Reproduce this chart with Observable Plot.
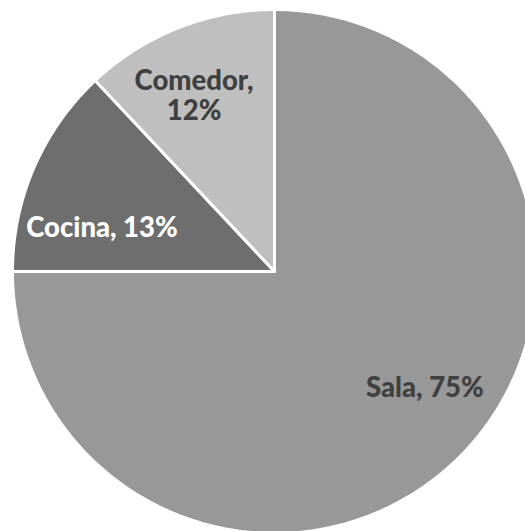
<!DOCTYPE html>
<html>
<head>
<meta charset="utf-8">
<script src="https://cdn.jsdelivr.net/npm/d3@7"></script>
<script src="https://cdn.jsdelivr.net/npm/@observablehq/plot@0.6"></script>
<style>
  html, body { margin: 0; padding: 0; background: #fff; }
  #chart svg { display: block; }
</style>
</head>
<body>
<div id="chart"></div>
<script>
// Data
const categories = ["Sala", "Cocina", "Comedor"];
const values = [75, 13, 12];

// Styles
const sliceColors = ["#989898", "#6e6e6e", "#bfbfbf"];
const labelColors = ["#404040", "#ffffff", "#404040"];
const labelLines = [["Sala, 75%"], ["Cocina, 13%"], ["Comedor,", "12%"]];
const labelRadius = [0.72, 0.68, 0.73];
const labelDx = [17, -9, -10];
const labelDy = [-18, 27, 2];

const W = 525, H = 531;
const cx = 274, cy = 271, R = 262;

const pie = d3.pie().sort(null).value(d => d.value).startAngle(0).endAngle(2 * Math.PI);
const arcs = pie(categories.map((c, i) => ({cat: c, value: values[i], i})));

// Polygon points per slice (data units = pixels relative to centre, y up)
const polys = [];
arcs.forEach(a => {
  const n = Math.max(2, Math.ceil((a.endAngle - a.startAngle) / (Math.PI / 180)));
  polys.push({cat: a.data.cat, x: 0, y: 0});
  for (let k = 0; k <= n; k++) {
    const t = a.startAngle + (a.endAngle - a.startAngle) * k / n;
    polys.push({cat: a.data.cat, x: R * Math.sin(t), y: R * Math.cos(t)});
  }
  polys.push({cat: a.data.cat, x: 0, y: 0});
});

const labels = [];
arcs.forEach(a => {
  const i = a.data.i;
  const mid = (a.startAngle + a.endAngle) / 2;
  const lr = R * labelRadius[i];
  labels.push({
    cat: a.data.cat,
    text: labelLines[i].join("\n"),
    x: lr * Math.sin(mid),
    y: lr * Math.cos(mid),
    fill: labelColors[i],
    dx: labelDx[i],
    dy: labelDy[i]
  });
});

const plot = Plot.plot({
  width: W,
  height: H,
  margin: 0,
  x: {domain: [-cx, W - cx], axis: null},
  y: {domain: [-(H - cy), cy], axis: null},
  color: {domain: categories, range: sliceColors},
  marks: [
    Plot.line(polys, {x: "x", y: "y", z: "cat", fill: "cat", stroke: "white", strokeWidth: 3, strokeLinejoin: "miter", curve: "linear"}),
    ...labels.map(l => Plot.text([l], {
      x: "x", y: "y", text: "text",
      fill: l.fill, dx: l.dx, dy: l.dy,
      fontSize: 27.5, fontWeight: 900,
      fontFamily: "Lato, 'Open Sans', sans-serif",
      lineHeight: 1.1,
      textAnchor: "middle"
    }))
  ]
});

document.getElementById("chart").appendChild(plot);
</script>
</body>
</html>
